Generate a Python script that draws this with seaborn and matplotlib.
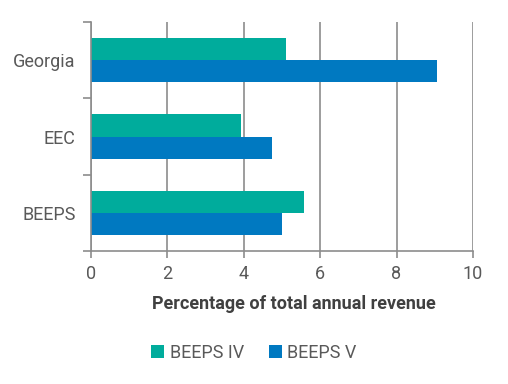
import matplotlib

matplotlib.use("Agg")
import matplotlib.pyplot as plt
import numpy as np
import pandas as pd
import seaborn as sns

regions = ["Georgia", "EEC", "BEEPS"]
surveys = ["BEEPS IV", "BEEPS V"]
beeps_iv = [5.1, 3.94, 5.59]
beeps_v = [9.05, 4.75, 5.01]
x_ticks = [0, 2, 4, 6, 8, 10]

df = pd.DataFrame({
    "region": regions * 2,
    "survey": [surveys[0]] * 3 + [surveys[1]] * 3,
    "value": beeps_iv + beeps_v,
})

sns.set_style("white")
plt.rcParams["font.family"] = ["Roboto", "DejaVu Sans"]

grey = "#595959"
line = "#8c8c8c"
palette = {"BEEPS IV": "#00ac9c", "BEEPS V": "#0079c1"}

fig = plt.figure(figsize=(5.08, 3.84), dpi=100)
ax = fig.add_axes([0.179, 0.346, 0.752, 0.597])

sns.barplot(
    data=df, x="value", y="region", hue="survey", order=regions,
    hue_order=surveys, palette=palette, orient="h", width=0.58,
    saturation=1, linewidth=0, ax=ax, legend=True,
)

ax.set_xlim(0, 10)
ax.set_ylim(2.5, -0.5)
ax.set_xticks(x_ticks)
ax.set_xticklabels([str(t) for t in x_ticks], fontsize=13, color=grey)
ax.set_yticks(range(len(regions)))
ax.set_yticklabels(regions, fontsize=13, color=grey)
ax.set_yticks([-0.5, 0.5, 1.5, 2.5], minor=True)
ax.tick_params(axis="y", which="major", left=True, length=0, pad=11)
ax.tick_params(axis="y", which="minor", left=True, length=6, color=line,
               width=1.2)
ax.tick_params(axis="x", bottom=True, length=5, color=line, width=1.2,
               pad=5)

ax.grid(axis="x", color=line, linewidth=1.2)
ax.set_axisbelow(True)
for side in ["top", "right"]:
    ax.spines[side].set_visible(False)
for side in ["left", "bottom"]:
    ax.spines[side].set_color(line)
    ax.spines[side].set_linewidth(1.2)

ax.set_ylabel("")
ax.set_xlabel("Percentage of total annual revenue", fontsize=13,
              fontweight="bold", color="#404040", labelpad=7)
ax.xaxis.set_label_coords(0.53, -0.19)

handles, labels = ax.get_legend_handles_labels()
ax.legend_.remove()
fig.legend(handles, labels, loc="center", bbox_to_anchor=(0.5, 0.081),
           ncol=2, frameon=False, fontsize=13, handlelength=0.7,
           handleheight=0.7, handletextpad=0.3, columnspacing=1.4,
           labelcolor=grey)

fig.savefig("out.png", dpi=100)
